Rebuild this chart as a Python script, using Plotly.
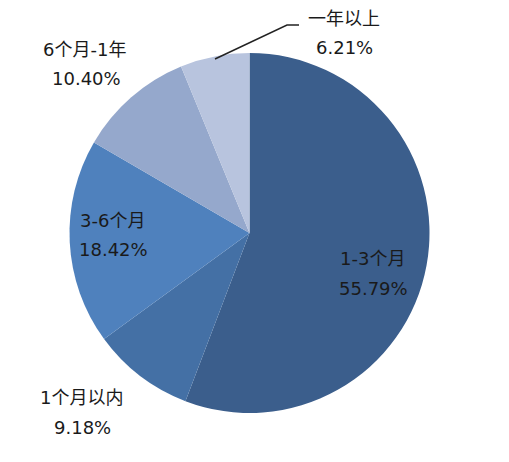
import plotly.graph_objects as go

# pie data, clockwise from 12 o'clock
labels = ['1-3个月', '1个月以内', '3-6个月', '6个月-1年', '一年以上']
shares = [55.79, 9.18, 18.42, 10.40, 6.21]
colors = ['#3b5e8c', '#4470a5', '#4f81bd', '#95a8cc', '#b8c4de']

# where each label pair sits (pixel centres of name line / value line)
label_px = [(372, 258), (81, 397), (112, 220), (84, 49), (344, 18)]
value_px = [(373, 288), (82, 427), (113, 249), (86, 79), (344, 48)]

W, H = 509, 462
OFF = 8  # page body margin pushes the plot down/right by this much
font_main = dict(family='DejaVu Sans, Noto Sans CJK SC, sans-serif', size=18, color='#1a1a1a')


def px(x, y):
    return (x - OFF) / W, 1 - (y - OFF) / H


cx, cy, r = 249.5, 233, 180
x0, y1 = px(cx - r, cy - r)
x1, y0 = px(cx + r, cy + r)

fig = go.Figure(go.Pie(
    labels=labels,
    values=shares,
    sort=False,
    direction='clockwise',
    rotation=0,
    marker=dict(colors=colors, line=dict(width=0)),
    textinfo='none',
    hoverinfo='label+percent',
    domain=dict(x=[x0, x1], y=[y0, y1]),
    showlegend=False,
))

annotations = []
for name, val, (lx, ly), (vx, vy) in zip(labels, shares, label_px, value_px):
    ax_, ay_ = px(lx, ly)
    bx_, by_ = px(vx, vy)
    annotations.append(dict(x=ax_, y=ay_, xref='paper', yref='paper',
                            text=name, showarrow=False, font=font_main,
                            xanchor='center', yanchor='middle'))
    annotations.append(dict(x=bx_, y=by_, xref='paper', yref='paper',
                            text='{:.2f}%'.format(val), showarrow=False, font=font_main,
                            xanchor='center', yanchor='middle'))

# leader line for the small top slice
p1, p2, p3 = px(215, 59), px(287, 25), px(299, 25)
leader = dict(type='path', xref='paper', yref='paper',
              path='M {} {} L {} {} L {} {}'.format(p1[0], p1[1], p2[0], p2[1], p3[0], p3[1]),
              line=dict(color='#222222', width=1.5))

fig.update_layout(
    width=W, height=H,
    margin=dict(l=0, r=0, t=0, b=0),
    paper_bgcolor='white',
    plot_bgcolor='white',
    annotations=annotations,
    shapes=[leader],
)

fig.write_html("out.html")
